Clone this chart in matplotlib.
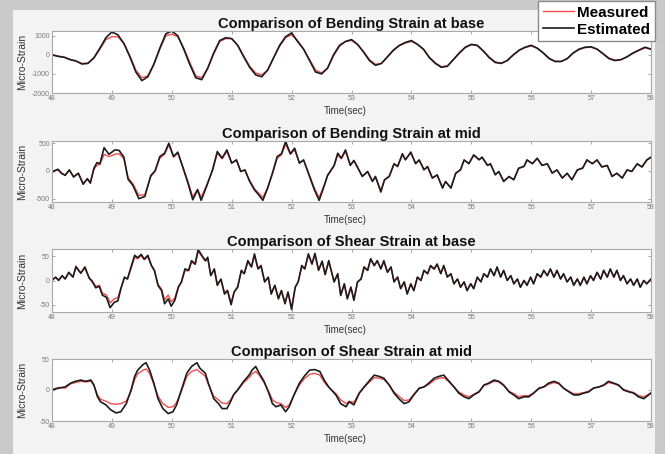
import numpy as np
import matplotlib
matplotlib.use("Agg")
import matplotlib.pyplot as plt
from matplotlib.patches import Rectangle

plt.rcParams['font.family'] = ['Liberation Sans', 'DejaVu Sans']
plt.rcParams['axes.unicode_minus'] = False

# --- data ---
# panel 1: bending strain at base (0.1 s grid)
t1 = np.round(np.linspace(48.0, 58.0, 101), 2)
est1 = [0, -80, -120, -250, -320, -480, -450, -150, 350, 900,
        1200, 1050, 600, -100, -900, -1350, -1150, -500, 350, 1100,
        1250, 1000, 300, -500, -1200, -1300, -700, 100, 750, 900,
        850, 500, -100, -650, -1050, -1150, -800, -150, 500, 950,
        1150, 700, 300, -300, -900, -1000, -700, 0, 500, 700,
        800, 550, 150, -300, -550, -450, -100, 250, 500, 650,
        750, 550, 300, -150, -450, -650, -600, -250, 100, 400,
        550, 500, 200, -150, -400, -450, -300, 0, 250, 400,
        500, 350, 100, -200, -350, -350, -200, 100, 300, 400,
        420, 300, 50, -200, -300, -250, -100, 100, 250, 400,
        300]
meas1 = [20, -60, -130, -230, -330, -450, -430, -180, 300, 800,
         950, 950, 600, -50, -800, -1200, -1100, -500, 300, 1000,
         1080, 950, 350, -400, -1100, -1200, -700, 50, 700, 850,
         850, 500, -50, -600, -950, -1050, -800, -150, 450, 900,
         1050, 750, 300, -250, -800, -950, -700, -50, 450, 700,
         750, 550, 180, -250, -500, -450, -120, 230, 480, 620,
         700, 560, 300, -120, -420, -620, -580, -260, 80, 380,
         530, 480, 220, -120, -370, -430, -300, -20, 230, 380,
         470, 350, 120, -170, -330, -340, -210, 80, 280, 380,
         400, 300, 70, -170, -280, -250, -110, 80, 230, 370,
         290]

# panel 2: bending strain at mid
t2 = [48.00, 48.05, 48.10, 48.16, 48.22, 48.29, 48.36, 48.44, 48.52, 48.59,
      48.64, 48.70, 48.75, 48.80, 48.87, 48.95, 49.05, 49.12, 49.20, 49.27,
      49.35, 49.45, 49.55, 49.65, 49.72, 49.80, 49.88, 49.95, 50.03, 50.10,
      50.18, 50.27, 50.35, 50.43, 50.49, 50.58, 50.68, 50.76, 50.84, 50.92,
      51.00, 51.08, 51.15, 51.22, 51.30, 51.38, 51.45, 51.52, 51.60, 51.68,
      51.76, 51.83, 51.90, 51.98, 52.05, 52.13, 52.20, 52.30, 52.38, 52.46,
      52.55, 52.60, 52.66, 52.71, 52.77, 52.83, 52.90, 52.98, 53.04, 53.10,
      53.18, 53.27, 53.35, 53.40, 53.49, 53.55, 53.63, 53.71, 53.77, 53.85,
      53.90, 53.99, 54.07, 54.13, 54.21, 54.27, 54.35, 54.43, 54.52, 54.57,
      54.66, 54.74, 54.82, 54.88, 54.96, 55.04, 55.13, 55.18, 55.27, 55.32,
      55.40, 55.46, 55.54, 55.63, 55.71, 55.79, 55.88, 55.93, 56.02, 56.10,
      56.18, 56.27, 56.35, 56.43, 56.52, 56.60, 56.68, 56.77, 56.86, 56.93,
      57.02, 57.10, 57.18, 57.27, 57.35, 57.43, 57.52, 57.60, 57.68, 57.77,
      57.85, 57.93, 58.00]
est2 = [-20, 10, 30, -40, -80, 20, -110, -40, -240, -140,
        -220, 50, 150, 130, 420, 300, 380, 370, 250, -150,
        -260, -500, -460, -80, 0, 260, 320, 500, 260, 340,
        80, -220, -520, -340, -530, -280, 20, 350, 230, 380,
        140, 200, -10, 20, -190, -340, -430, -530, -310, -40,
        260, 310, 530, 310, 410, 140, 200, -100, -340, -530,
        -250, -80, 20, 100, 320, 230, 380, 100, 190, 70,
        -100, -10, -190, -100, -380, -160, -100, 130, 80, 310,
        200, 340, 130, 200, 20, 80, -130, -70, -310, -190,
        -310, -40, 20, 200, 130, 290, 200, 250, 100, 130,
        -70, -10, -190, -100, -160, 50, 80, 200, 130, 230,
        100, 130, -40, 20, -130, -40, -160, 20, 50, 200,
        130, 200, 70, 100, -100, -40, -130, 20, -10, 130,
        70, 200, 250]
meas2 = [-30, 0, 20, -50, -70, 10, -100, -50, -220, -150,
         -200, 30, 100, 120, 300, 260, 300, 310, 220, -120,
         -230, -440, -430, -100, -10, 230, 300, 470, 250, 320,
         90, -190, -470, -330, -480, -260, 10, 320, 220, 350,
         150, 190, 0, 10, -170, -320, -400, -480, -300, -50,
         230, 290, 480, 300, 380, 150, 190, -80, -310, -480,
         -240, -90, 10, 90, 290, 220, 350, 110, 180, 60,
         -90, -20, -180, -110, -350, -170, -90, 120, 90, 290,
         210, 320, 140, 190, 30, 70, -120, -80, -290, -200,
         -290, -50, 30, 190, 140, 280, 210, 240, 110, 120,
         -60, -20, -180, -110, -150, 40, 90, 190, 140, 220,
         110, 120, -30, 10, -120, -50, -150, 10, 60, 190,
         140, 190, 80, 90, -90, -50, -120, 10, 0, 120,
         80, 190, 240]

# panel 3: shear strain at base
t3 = [48.00, 48.06, 48.11, 48.17, 48.22, 48.28, 48.35, 48.40, 48.48, 48.55,
      48.62, 48.67, 48.73, 48.79, 48.84, 48.91, 48.97, 49.04, 49.10, 49.15,
      49.21, 49.26, 49.32, 49.38, 49.43, 49.49, 49.54, 49.60, 49.66, 49.71,
      49.77, 49.83, 49.88, 49.94, 49.99, 50.05, 50.11, 50.16, 50.22, 50.28,
      50.33, 50.39, 50.44, 50.50, 50.56, 50.60, 50.65, 50.71, 50.76, 50.82,
      50.88, 50.93, 50.99, 51.04, 51.10, 51.16, 51.21, 51.27, 51.33, 51.38,
      51.44, 51.49, 51.55, 51.61, 51.66, 51.72, 51.78, 51.83, 51.89, 51.94,
      52.00, 52.06, 52.11, 52.17, 52.22, 52.28, 52.34, 52.39, 52.45, 52.51,
      52.56, 52.62, 52.71, 52.77, 52.82, 52.88, 52.93, 52.99, 53.04, 53.10,
      53.16, 53.21, 53.27, 53.32, 53.38, 53.43, 53.49, 53.54, 53.60, 53.66,
      53.71, 53.77, 53.82, 53.88, 53.93, 53.99, 54.04, 54.10, 54.16, 54.21,
      54.27, 54.32, 54.38, 54.43, 54.49, 54.54, 54.60, 54.66, 54.71, 54.77,
      54.82, 54.88, 54.93, 54.99, 55.04, 55.10, 55.16, 55.21, 55.27, 55.32,
      55.38, 55.43, 55.49, 55.54, 55.60, 55.66, 55.71, 55.77, 55.82, 55.88,
      55.93, 55.99, 56.04, 56.10, 56.16, 56.21, 56.27, 56.32, 56.38, 56.43,
      56.49, 56.54, 56.60, 56.66, 56.71, 56.77, 56.82, 56.88, 56.93, 56.99,
      57.04, 57.10, 57.16, 57.21, 57.27, 57.32, 57.38, 57.43, 57.49, 57.54,
      57.60, 57.66, 57.71, 57.77, 57.82, 57.88, 57.93, 58.00]
est3 = [0, 7, 0, 10, 3, 17, 7, 29, 15, 28,
        5, -2, -15, -12, -30, -35, -56, -45, -42, -17,
        7, 3, 28, 52, 47, 54, 44, 52, 31, 21,
        -10, -21, -48, -38, -53, -41, -14, -3, 24, 21,
        41, 34, 64, 52, 41, 48, 10, 24, -10, 3,
        -28, -21, -50, -24, -14, 21, 14, 41, 28, 55,
        24, 31, -3, 7, -28, -10, -38, -21, -48, -24,
        -60, -14, -3, 31, 24, 55, 34, 56, 21, 40,
        12, 41, -3, 14, -31, -7, -38, -14, -41, -3,
        3, 28, 21, 45, 31, 41, 24, 41, 17, 28,
        -3, 7, -17, -3, -28, -7, -21, 7, 0, 21,
        14, 31, 24, 34, 14, 31, 7, 14, -7, 3,
        -14, -3, -21, -7, -17, 7, -3, 14, 7, 24,
        10, 28, 7, 21, 0, 10, -7, 3, -14, 0,
        -10, 7, -7, 14, 7, 21, 10, 24, 7, 21,
        3, 14, -3, 7, -10, 3, -10, 7, -7, 10,
        0, 17, 3, 21, 7, 24, 7, 21, 0, 10,
        -7, 3, -10, 3, -14, 0, -7, 3]
meas3 = [2, 6, 2, 9, 4, 15, 8, 26, 16, 25,
         6, 0, -12, -10, -26, -30, -46, -38, -35, -15,
         5, 4, 25, 48, 45, 51, 43, 49, 30, 20,
         -8, -18, -40, -30, -44, -36, -12, -4, 20, 20,
         38, 33, 60, 50, 40, 45, 12, 22, -8, 2,
         -25, -20, -46, -24, -12, 18, 15, 38, 28, 50,
         24, 28, -2, 6, -25, -10, -35, -20, -45, -24,
         -55, -14, -2, 28, 24, 52, 34, 52, 22, 38,
         13, 38, -2, 13, -29, -7, -36, -13, -39, -4,
         4, 26, 21, 43, 30, 40, 24, 39, 17, 27,
         -2, 7, -16, -3, -26, -7, -20, 6, 1, 20,
         14, 29, 23, 33, 15, 29, 8, 13, -6, 3,
         -13, -3, -20, -6, -16, 6, -2, 13, 7, 23,
         10, 26, 8, 20, 1, 10, -6, 3, -13, 0,
         -9, 6, -6, 13, 7, 20, 10, 23, 7, 20,
         4, 13, -2, 7, -9, 3, -9, 6, -6, 9,
         1, 16, 3, 20, 7, 23, 7, 20, 1, 10,
         -6, 3, -9, 3, -13, 0, -6, 3]

# panel 4: shear strain at mid
t4 = [48.00, 48.11, 48.22, 48.31, 48.39, 48.48, 48.56, 48.65, 48.70, 48.76,
      48.81, 48.90, 48.98, 49.07, 49.15, 49.24, 49.32, 49.38, 49.43, 49.52,
      49.57, 49.63, 49.70, 49.77, 49.85, 49.94, 50.02, 50.08, 50.16, 50.25,
      50.33, 50.42, 50.47, 50.56, 50.61, 50.70, 50.78, 50.84, 50.92, 50.98,
      51.03, 51.12, 51.20, 51.29, 51.34, 51.40, 51.46, 51.54, 51.62, 51.68,
      51.74, 51.82, 51.90, 51.96, 52.04, 52.13, 52.21, 52.30, 52.38, 52.47,
      52.55, 52.62, 52.74, 52.82, 52.91, 52.96, 53.04, 53.13, 53.21, 53.29,
      53.38, 53.46, 53.54, 53.63, 53.71, 53.79, 53.88, 53.96, 54.04, 54.13,
      54.21, 54.29, 54.38, 54.46, 54.54, 54.63, 54.71, 54.79, 54.88, 54.96,
      55.04, 55.13, 55.21, 55.29, 55.38, 55.46, 55.54, 55.63, 55.71, 55.79,
      55.88, 55.96, 56.04, 56.13, 56.21, 56.29, 56.38, 56.46, 56.54, 56.63,
      56.71, 56.79, 56.88, 56.96, 57.04, 57.13, 57.21, 57.29, 57.38, 57.46,
      57.54, 57.63, 57.71, 57.79, 57.88, 57.96, 58.00]
est4 = [0, 3, 5, 11, 14, 16, 14, 16, 8, -11,
        -19, -24, -32, -37, -35, -22, 0, 22, 32, 41,
        44, 32, 11, -14, -30, -38, -35, -24, 0, 27,
        38, 44, 35, 27, 11, -14, -22, -30, -30, -19,
        -8, 3, 14, 24, 32, 38, 27, 14, -5, -22,
        -27, -24, -35, -27, -8, 11, 22, 32, 33, 30,
        15, 5, -8, -22, -27, -19, -24, -5, 5, 14,
        24, 22, 19, 8, -5, -14, -22, -19, -8, 3,
        5, 11, 19, 22, 24, 14, 5, -5, -11, -14,
        -8, -3, 8, 11, 16, 14, 8, -3, -8, -14,
        -11, -11, -5, 3, 5, 11, 14, 11, 3, -3,
        -8, -8, -5, -3, 3, 5, 8, 14, 11, 8,
        0, -3, -5, -11, -14, -8, -5]
meas4 = [1, 4, 3, 10, 12, 14, 13, 14, 7, -8,
         -15, -18, -22, -23, -22, -18, -2, 17, 26, 32,
         34, 27, 9, -10, -22, -28, -27, -20, -2, 22,
         30, 33, 29, 22, 9, -10, -16, -21, -22, -16,
         -8, 2, 12, 20, 26, 30, 24, 12, -3, -16,
         -20, -22, -28, -24, -8, 8, 18, 25, 27, 24,
         12, 4, -6, -16, -22, -18, -20, -5, 4, 12,
         20, 19, 17, 8, -3, -10, -17, -16, -7, 2,
         5, 9, 16, 19, 20, 13, 5, -3, -8, -11,
         -7, -2, 7, 10, 14, 13, 7, -2, -6, -11,
         -9, -9, -5, 2, 5, 9, 12, 10, 3, -2,
         -6, -6, -4, -2, 3, 5, 7, 12, 10, 7,
         1, -2, -4, -9, -11, -7, -4]

titles = ["Comparison of Bending Strain at base",
          "Comparison of Bending Strain at mid",
          "Comparison of Shear Strain at base",
          "Comparison of Shear Strain at mid"]
ylims = [(-2000, 1250), (-560, 540), (-65, 65), (-50, 50)]
yticks = [[-2000, -1000, 0, 1000], [-500, 0, 500], [-50, 0, 50], [-50, 0, 50]]
xticks = list(range(48, 59))

# --- layout (pixel boxes of the axes in the 665x454 picture) ---
W, H = 665, 454
boxes = [(31, 93), (141, 202), (249, 312), (359, 421)]
left, right = 52, 651

fig = plt.figure(figsize=(W / 100, H / 100), dpi=100)
fig.set_facecolor('#c9c9c9')
fig.add_artist(Rectangle((13 / W, 0), (655 - 13) / W, (H - 10) / H,
                         transform=fig.transFigure, facecolor='#f3f3f3',
                         edgecolor='none', zorder=-10))

series = [(t1, meas1, est1), (t2, meas2, est2), (t3, meas3, est3), (t4, meas4, est4)]

for i, (top, bot) in enumerate(boxes):
    ax = fig.add_axes([left / W, 1 - bot / H, (right - left) / W, (bot - top) / H])
    t, meas, est = series[i]
    lm, = ax.plot(t, meas, color='#ee4b4b', lw=1.0, label='Measured')
    le, = ax.plot(t, est, color='#1c1c1c', lw=1.2, label='Estimated')
    ax.set_xlim(48, 58)
    ax.set_ylim(*ylims[i])
    ax.set_xticks(xticks)
    ax.set_yticks(yticks[i])
    ax.tick_params(direction='in', length=2.5, width=0.6, top=True, right=True,
                   labelsize=5, labelcolor='#7a7a7a', color='#9a9a9a', pad=1.5)
    for s in ax.spines.values():
        s.set_color('#a8a8a8')
        s.set_linewidth(0.8)
    ax.set_title(titles[i], fontsize=10.5, fontweight='bold', pad=2.5, color='#111111')
    ax.set_xlabel("Time(sec)", fontsize=7, color='#333333')
    ax.xaxis.set_label_coords(0.49, -13 / (bot - top))
    ax.set_ylabel("Micro-Strain", fontsize=7.5, color='#333333')
    ax.yaxis.set_label_coords(-25 / (right - left), 0.5)

fig.legend([lm, le], ['Measured', 'Estimated'], loc='upper right',
           bbox_to_anchor=(655 / W, 1 - 1 / H), fancybox=False, framealpha=1,
           edgecolor='#8a8a8a', borderpad=0.3, handlelength=2.0,
           handletextpad=0.25, labelspacing=0.2, borderaxespad=0,
           prop={'weight': 'bold', 'size': 11})

fig.savefig("out.png", dpi=100, facecolor=fig.get_facecolor())
